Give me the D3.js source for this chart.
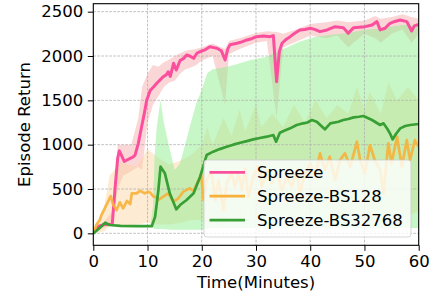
<!DOCTYPE html>
<html>
<head>
<meta charset="utf-8">
<script src="https://cdn.jsdelivr.net/npm/d3@7"></script>
<style>
body { margin: 0; background: #fff; }
text { font-family: "DejaVu Sans", sans-serif; fill: #000; }
</style>
</head>
<body>
<div id="chart"></div>
<script>
// tick labels
var xTicks = [0, 10, 20, 30, 40, 50, 60];
var yTicks = [0, 500, 1000, 1500, 2000, 2500];
var seriesNames = ["Spreeze", "Spreeze-BS128", "Spreeze-BS32768"];

// Spreeze
var spzT = [0, 1, 2, 3, 3.5, 4, 4.5, 4.8, 5.2, 5.7, 6.3, 6.8, 7.3, 7.7, 8.3, 8.9, 9.4, 9.85, 10.5, 11.1, 11.7, 12.3, 12.9, 13.5, 13.8, 14.2, 14.8, 15.3, 16, 16.6, 17.2, 17.8, 18.5, 19.1, 19.7, 20.6, 21.5, 22.2, 22.8, 23.6, 24.3, 24.8, 25.2, 26.5, 27.4, 28.3, 29.2, 30.1, 31.4, 32.6, 33.2, 33.8, 34.3, 34.8, 35.6, 36.3, 37.2, 38.1, 39, 40, 40.8, 41.8, 43.1, 44.6, 46.1, 47, 48, 49, 50.1, 51.4, 52.3, 52.9, 53.8, 54.7, 55.6, 56.6, 57.8, 58.7, 59.2, 60];
var spzMean = [0, 80, 100, 100, 110, 500, 850, 930, 880, 810, 830, 846, 860, 883, 1015, 1200, 1350, 1500, 1613, 1650, 1692, 1730, 1767, 1790, 1823, 1770, 1918, 1842, 1950, 1970, 2011, 2000, 1974, 2031, 2050, 2070, 2105, 2095, 2087, 2060, 1955, 2080, 2126, 2144, 2160, 2181, 2195, 2218, 2225, 2218, 2230, 1710, 2050, 2144, 2190, 2218, 2260, 2294, 2300, 2313, 2300, 2275, 2294, 2331, 2320, 2256, 2320, 2325, 2331, 2350, 2388, 2294, 2313, 2369, 2390, 2406, 2388, 2282, 2340, 2357];
var spzBandT = [0, 2, 3.5, 4.5, 5.5, 7, 8.3, 9, 10, 11, 12, 13, 14, 15, 16, 17, 18, 19, 20, 22, 24.3, 25, 27, 30, 32, 33.8, 35, 37, 40, 43, 45, 47, 50, 52, 53, 55, 57, 58.7, 60];
var spzHigh = [30, 130, 250, 1000, 1000, 1000, 1300, 1654, 1800, 1900, 1880, 1930, 1960, 2000, 2030, 2060, 2070, 2080, 2100, 2140, 2080, 2170, 2200, 2260, 2280, 2270, 2250, 2290, 2360, 2380, 2400, 2380, 2400, 2450, 2420, 2440, 2470, 2440, 2420];
var spzLow = [0, 60, 90, 500, 650, 700, 750, 714, 1250, 1450, 1550, 1650, 1700, 1720, 1800, 1850, 1870, 1900, 1950, 2000, 1450, 2020, 2080, 2150, 2170, 1300, 2100, 2150, 2230, 2200, 2230, 2100, 2250, 2200, 2150, 2250, 2300, 2150, 2250];

// Spreeze-BS128
var bs128T = [0, 0.6, 1.2, 1.5, 2.5, 3.2, 3.7, 4.3, 4.9, 5.5, 6.2, 6.8, 7.1, 8, 8.6, 9.5, 10.1, 10.5, 11.1, 11.4, 12, 12.9, 13.8, 14.8, 15.7, 16.6, 17.8, 18.5, 19.1, 19.9, 20.3, 20.9, 21.8, 22.5, 23.1, 24, 24.6, 25.5, 26.1, 26.8, 27.4, 28, 28.6, 29.5, 30.4, 31.1, 32, 32.9, 33.8, 34.8, 35.7, 36.6, 37.5, 38.1, 39, 40, 40.9, 41.8, 42.7, 43.6, 44.6, 45.5, 46.4, 47.4, 48.6, 49.2, 50.1, 51, 51.9, 52.9, 53.5, 54.4, 55, 56, 56.9, 57.8, 58.4, 59.3, 60];
var bs128Mean = [0, 100, 150, 206, 330, 420, 319, 263, 350, 282, 365, 330, 451, 451, 480, 451, 470, 458, 413, 413, 376, 413, 451, 357, 395, 470, 508, 480, 560, 660, 376, 601, 695, 376, 601, 263, 564, 695, 526, 677, 488, 733, 413, 639, 752, 526, 714, 564, 695, 488, 639, 526, 714, 451, 677, 790, 639, 902, 714, 864, 601, 827, 902, 752, 1034, 827, 677, 996, 827, 714, 451, 1015, 790, 1090, 752, 1052, 827, 1052, 977];
var bs128BandT = [0, 2, 3, 5, 8, 10, 12, 14, 16, 18, 20, 21, 22, 24, 25.5, 27, 28, 30, 31, 33, 35, 37, 39, 41, 43, 45, 47, 48.6, 50, 51, 53, 54.4, 56, 58, 60];
var bs128High = [50, 300, 650, 800, 750, 950, 850, 780, 820, 880, 1000, 1200, 1000, 1300, 1100, 1400, 1150, 1450, 1200, 1350, 1200, 1450, 1250, 1500, 1300, 1450, 1350, 1650, 1400, 1600, 1350, 1700, 1500, 1650, 1500];
var bs128Low = [0, 20, 80, 80, 100, 120, 100, 100, 120, 150, 150, 100, 150, 80, 200, 120, 250, 150, 300, 150, 250, 150, 280, 200, 300, 150, 250, 200, 300, 150, 250, 200, 280, 200, 250];

// Spreeze-BS32768
var bs32kT = [0, 0.6, 1.5, 2.2, 3, 5, 8, 10.8, 11.4, 12, 12.4, 13.2, 14.1, 15.3, 16, 17.2, 18.5, 19.7, 20.3, 20.9, 22.1, 23.3, 24.6, 25.8, 27.1, 28.3, 29.5, 30.7, 32, 33.2, 33.7, 34.4, 35.3, 36.3, 37.5, 38.7, 39.5, 40.3, 41.2, 42.7, 43.7, 45.2, 46.1, 47, 48, 49, 49.8, 50.6, 51.4, 52.9, 53.5, 54.2, 54.7, 55.2, 55.8, 56.6, 57.5, 58.4, 60];
var bs32kMean = [0, 30, 80, 120, 94, 85, 82, 82, 188, 488, 752, 677, 451, 271, 319, 376, 451, 639, 760, 883, 921, 950, 977, 1000, 1022, 1040, 1060, 1075, 1090, 1109, 1034, 1135, 1160, 1184, 1222, 1241, 1250, 1278, 1259, 1173, 1241, 1259, 1278, 1290, 1308, 1315, 1323, 1300, 1278, 1222, 1241, 1180, 1128, 1060, 1120, 1184, 1210, 1222, 1233];
var bs32kBandT = [10.5, 11, 11.3, 11.7, 12.4, 13, 14, 15, 16, 17, 18, 19, 20, 21, 22, 24, 26, 29, 32, 34, 36, 38, 41, 44, 47, 50, 53, 55, 57, 60];
var bs32kHigh = [82, 300, 865, 1200, 1505, 1250, 977, 714, 790, 1015, 1250, 1467, 1617, 1805, 1850, 1870, 1900, 1955, 1992, 2050, 2105, 2162, 2218, 2240, 2260, 2294, 2310, 2330, 2350, 2350];
var bs32kLow = [82, 60, 50, 50, 50, 50, 40, 40, 40, 40, 40, 40, 40, 50, 60, 60, 60, 60, 60, 60, 60, 60, 60, 60, 60, 60, 60, 60, 60, 60];

var lineColors = ["#fb4f9d", "#f7b13a", "#379f34"];
var lineOpacity = [1, 0.9, 1];
var bandColors = ["#f08080", "#fdd3a0", "#90ee90"];
var bandOpacity = [0.32, 0.45, 0.5];

var margin = {
        top: 3.7,
        right: 15.3,
        bottom: 53.7,
        left: 93.3
    },
    width = 434 - margin.left - margin.right,
    height = 299 - margin.top - margin.bottom;

var x = d3.scaleLinear()
    .domain([0, 60])
    .range([0, width]);

var y = d3.scaleLinear()
    .domain([-135, 2590])
    .range([height, 0]);

var series = [
    { mean: d3.zip(spzT, spzMean), band: d3.zip(spzBandT, spzLow, spzHigh) },
    { mean: d3.zip(bs128T, bs128Mean), band: d3.zip(bs128BandT, bs128Low, bs128High) },
    { mean: d3.zip(bs32kT, bs32kMean), band: d3.zip(bs32kBandT, bs32kLow, bs32kHigh) }
];

var line = d3.line()
    .x(function (d) { return x(d[0]); })
    .y(function (d) { return y(d[1]); });

var area = d3.area()
    .x(function (d) { return x(d[0]); })
    .y0(function (d) { return y(d[1]); })
    .y1(function (d) { return y(d[2]); });

var svg = d3.select('#chart')
    .append('svg')
    .attr('width', 434)
    .attr('height', 299);

var main = svg.append('g')
    .attr('transform', 'translate(' + margin.left + ',' + margin.top + ')');

main.append('clipPath')
    .attr('id', 'clip')
    .append('rect')
    .attr('width', width)
    .attr('height', height);

var plot = main.append('g').attr('clip-path', 'url(#clip)');

// bands
plot.selectAll('.band')
    .data(series)
    .enter().append('path')
    .attr('class', 'band')
    .attr('d', function (d) { return area(d.band); })
    .attr('fill', function (d, i) { return bandColors[i]; })
    .attr('fill-opacity', function (d, i) { return bandOpacity[i]; })
    .attr('stroke', 'none');

// grid
var grid = plot.append('g')
    .attr('stroke', '#b0b0b0')
    .attr('stroke-width', 0.8)
    .attr('stroke-dasharray', '2.6,1.4');

grid.selectAll('.gx')
    .data(xTicks)
    .enter().append('line')
    .attr('x1', function (d) { return x(d); })
    .attr('x2', function (d) { return x(d); })
    .attr('y1', 0)
    .attr('y2', height);

grid.selectAll('.gy')
    .data(yTicks)
    .enter().append('line')
    .attr('y1', function (d) { return y(d); })
    .attr('y2', function (d) { return y(d); })
    .attr('x1', 0)
    .attr('x2', width);

// mean lines
plot.selectAll('.mean')
    .data(series)
    .enter().append('path')
    .attr('class', 'mean')
    .attr('d', function (d) { return line(d.mean); })
    .attr('fill', 'none')
    .attr('stroke', function (d, i) { return lineColors[i]; })
    .attr('stroke-opacity', function (d, i) { return lineOpacity[i]; })
    .attr('stroke-width', function (d, i) { return i === 0 ? 3 : 2.7; })
    .attr('stroke-linejoin', 'round');

// axes
var xAxis = main.append('g')
    .attr('transform', 'translate(0,' + height + ')')
    .call(d3.axisBottom(x).tickValues(xTicks).tickFormat(d3.format('d')).tickSize(5.5).tickPadding(4.5));

var yAxis = main.append('g')
    .call(d3.axisLeft(y).tickValues(yTicks).tickFormat(d3.format('d')).tickSize(5.5).tickPadding(4.5));

[xAxis, yAxis].forEach(function (a) {
    a.select('.domain').remove();
    a.selectAll('text')
        .attr('font-size', '16.5px')
        .attr('font-family', '"DejaVu Sans", sans-serif')
        .attr('fill', '#000');
    a.selectAll('line').attr('stroke', '#000').attr('stroke-width', 1);
});

// spines
main.append('rect')
    .attr('width', width)
    .attr('height', height)
    .attr('fill', 'none')
    .attr('stroke', '#000')
    .attr('stroke-width', 1.1);

svg.append('text')
    .attr('x', margin.left + width / 2)
    .attr('y', 288)
    .attr('text-anchor', 'middle')
    .attr('font-size', '16.5px')
    .text('Time(Minutes)');

svg.append('text')
    .attr('transform', 'translate(29.5,' + (margin.top + height / 2) + ') rotate(-90)')
    .attr('text-anchor', 'middle')
    .attr('font-size', '16.5px')
    .text('Episode Return');

// legend
var legend = svg.append('g');

legend.append('rect')
    .attr('x', 204)
    .attr('y', 160)
    .attr('width', 207)
    .attr('height', 77)
    .attr('rx', 3)
    .attr('fill', '#fff')
    .attr('fill-opacity', 0.8)
    .attr('stroke', '#cccccc')
    .attr('stroke-opacity', 0.8);

var items = legend.selectAll('.item')
    .data(seriesNames)
    .enter().append('g')
    .attr('transform', function (d, i) { return 'translate(0,' + (172.3 + i * 23.9) + ')'; });

items.append('line')
    .attr('x1', 209.5)
    .attr('x2', 245)
    .attr('stroke', function (d, i) { return lineColors[i]; })
    .attr('stroke-width', 2.7);

items.append('text')
    .attr('x', 257)
    .attr('dy', '0.36em')
    .attr('font-size', '16.5px')
    .text(function (d) { return d; });
</script>
</body>
</html>
